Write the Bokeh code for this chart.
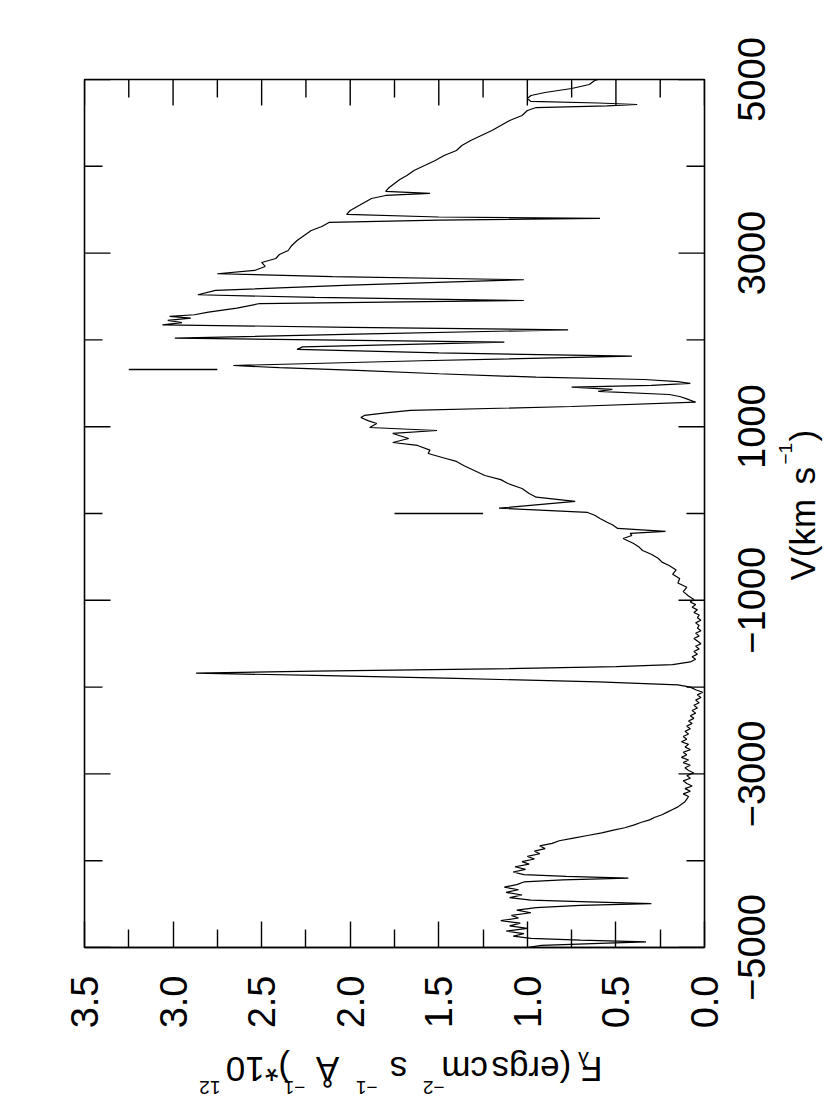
import math
from bokeh.plotting import figure
from bokeh.layouts import row, column
from bokeh.models import Range1d, LinearAxis, FixedTicker, Label
from bokeh.embed import file_html
from bokeh.resources import INLINE
from bokeh.core.properties import value

# ---------------- data ----------------
# blue wing (-5000 .. -2030 km/s)
vel_blue = [-5000, -4975, -4950, -4935, -4915, -4895, -4870, -4840, -4810, -4780,
            -4750, -4720, -4690, -4660, -4630, -4600, -4570, -4540, -4515, -4495,
            -4475, -4455, -4425, -4395, -4365, -4335, -4305, -4275, -4245, -4220,
            -4200, -4180, -4160, -4130, -4100, -4070, -4040, -4010, -3980, -3950,
            -3920, -3890, -3860, -3830, -3800, -3770, -3740, -3710, -3680, -3650,
            -3620, -3590, -3560, -3530, -3500, -3470, -3440, -3410, -3380, -3350,
            -3320, -3290, -3260, -3230, -3200, -3170, -3140, -3110, -3080, -3050,
            -3020, -2990, -2960, -2930, -2900, -2870, -2840, -2810, -2780, -2750,
            -2720, -2690, -2660, -2630, -2600, -2570, -2540, -2510, -2480, -2450,
            -2420, -2390, -2360, -2330, -2300, -2270, -2240, -2210, -2180, -2150,
            -2120, -2090, -2060, -2030]
flux_blue = [1.00, 0.92, 0.55, 0.33, 0.70, 0.98, 1.08, 1.02, 1.12, 1.00,
             1.10, 1.04, 1.15, 1.05, 1.09, 0.98, 1.06, 0.95, 0.70, 0.30,
             0.65, 0.98, 1.10, 1.03, 1.12, 1.05, 1.13, 1.06, 1.02, 0.80,
             0.43, 0.78, 1.02, 1.08, 1.01, 1.07, 0.99, 1.03, 0.96, 1.00,
             0.93, 0.96, 0.90, 0.93, 0.86, 0.82, 0.74, 0.66, 0.58, 0.52,
             0.45, 0.40, 0.36, 0.31, 0.28, 0.24, 0.21, 0.18, 0.15, 0.13,
             0.11, 0.10, 0.09, 0.12, 0.08, 0.11, 0.07, 0.10, 0.12, 0.08,
             0.10, 0.06, 0.09, 0.11, 0.08, 0.12, 0.09, 0.13, 0.10, 0.12,
             0.08, 0.11, 0.09, 0.13, 0.10, 0.12, 0.09, 0.11, 0.08, 0.10,
             0.07, 0.09, 0.06, 0.08, 0.05, 0.07, 0.04, 0.06, 0.03, 0.05,
             0.02, 0.04, 0.01, 0.05]

# narrow emission line and flat trough (-2000 .. -560 km/s)
vel_peak = [-2000, -1975, -1940, -1900, -1865, -1840, -1815, -1790, -1765, -1740,
            -1710, -1680, -1650, -1620, -1590, -1560, -1530, -1500, -1470, -1440,
            -1410, -1380, -1350, -1320, -1290, -1260, -1230, -1200, -1170, -1140,
            -1110, -1080, -1050, -1020, -990, -950, -900, -850, -800, -750,
            -700, -650, -600, -560]
flux_peak = [0.08, 0.15, 0.60, 1.40, 2.20, 2.87, 2.20, 1.20, 0.50, 0.18,
             0.08, 0.05, 0.07, 0.04, 0.06, 0.03, 0.05, 0.02, 0.04, 0.06,
             0.03, 0.05, 0.02, 0.04, 0.03, 0.05, 0.02, 0.04, 0.03, 0.06,
             0.04, 0.07, 0.05, 0.08, 0.06, 0.09, 0.12, 0.10, 0.15, 0.14,
             0.18, 0.16, 0.20, 0.24]

# rising part with the deep absorption troughs (-518 .. 2762 km/s)
vel_mid = [-518, -470, -426, -385, -345, -288, -253, -230, -207, -172,
           -130, -100, -57, -20, 12, 61, 139, 188, 230, 288,
           346, 390, 438, 496, 553, 600, 634, 691, 730, 784,
           818, 864, 922, 956, 991, 1037, 1070, 1106, 1130, 1160,
           1187, 1233, 1282, 1320, 1348, 1371, 1406, 1429, 1455, 1475,
           1498, 1520, 1544, 1570, 1610, 1648, 1680, 1705, 1760, 1813,
           1850, 1890, 1920, 1974, 2020, 2070, 2116, 2145, 2174, 2200,
           2225, 2250, 2270, 2290, 2320, 2366, 2419, 2454, 2490, 2520,
           2570, 2630, 2693, 2730, 2762]
flux_mid = [0.26, 0.30, 0.35, 0.37, 0.40, 0.46, 0.41, 0.42, 0.22, 0.49,
            0.52, 0.55, 0.59, 0.62, 0.66, 1.16, 0.73, 0.95, 0.99, 1.03,
            1.11, 1.15, 1.24, 1.30, 1.36, 1.40, 1.46, 1.56, 1.55, 1.62,
            1.76, 1.67, 1.76, 1.51, 1.89, 1.85, 1.90, 1.94, 1.92, 1.80,
            1.66, 0.75, 0.05, 0.10, 0.14, 0.20, 0.60, 0.52, 0.75, 0.30,
            0.08, 0.15, 0.34, 0.95, 1.50, 1.96, 2.40, 2.66, 1.60, 0.41,
            1.50, 2.30, 2.27, 1.13, 2.99, 1.90, 0.77, 2.00, 3.06, 2.95,
            3.03, 2.90, 3.02, 2.88, 2.80, 2.64, 2.51, 1.02, 2.20, 2.86,
            2.76, 2.00, 1.02, 2.10, 2.75]

# red wing (2800 .. 5000 km/s)
vel_red = [2800, 2846, 2892, 2938, 2984, 3030, 3088, 3145, 3203, 3260,
           3306, 3353, 3381, 3399, 3416, 3445, 3491, 3537, 3583, 3629,
           3664, 3687, 3710, 3756, 3802, 3848, 3894, 3952, 4009, 4067,
           4124, 4182, 4240, 4297, 4355, 4412, 4470, 4528, 4585, 4643,
           4677, 4695, 4712, 4729, 4747, 4781, 4816, 4850, 4896, 4942,
           4988, 5000]
flux_red = [2.54, 2.48, 2.50, 2.42, 2.40, 2.35, 2.33, 2.30, 2.26, 2.22,
            2.16, 2.12, 1.50, 0.59, 1.50, 2.02, 2.00, 1.96, 1.92, 1.88,
            1.80, 1.55, 1.80, 1.78, 1.75, 1.72, 1.68, 1.64, 1.58, 1.52,
            1.47, 1.40, 1.37, 1.32, 1.26, 1.20, 1.15, 1.10, 1.03, 1.00,
            0.95, 0.55, 0.38, 0.60, 0.98, 1.00, 0.98, 0.90, 0.75, 0.65,
            0.62, 0.60]

# short vertical line markers above two features
marker_velocity = [1660, 0]
marker_flux_low = [2.75, 1.25]
marker_flux_high = [3.25, 1.75]

flux_ticks = [0.0, 0.5, 1.0, 1.5, 2.0, 2.5, 3.0, 3.5]
flux_minor_ticks = [0.25, 0.75, 1.25, 1.75, 2.25, 2.75, 3.25]
flux_tick_labels = ["0.0", "0.5", "1.0", "1.5", "2.0", "2.5", "3.0", "3.5"]
vel_ticks = [-5000, -3000, -1000, 1000, 3000, 5000]
vel_minor_ticks = [-4000, -2000, 0, 2000, 4000]
vel_tick_labels = ["\u22125000", "\u22123000", "\u22121000", "1000", "3000", "5000"]

velocity = vel_blue + vel_peak + vel_mid + vel_red
flux = flux_blue + flux_peak + flux_mid + flux_red
assert len(velocity) == len(flux)

# ---------------- geometry (page pixels) ----------------
FONT = "Liberation Sans"
FRAME_L, FRAME_T, FRAME_W, FRAME_H = 84, 79, 620, 868
MAIN_W = FRAME_L + FRAME_W + 26          # main figure canvas width
MAIN_H = FRAME_T + FRAME_H + 88          # main figure canvas height
FOOT_H = 70                              # strip below for the flux title
SIDE_W = 96                              # strip on the right for velocity labels
TOTAL_H = MAIN_H + FOOT_H
FMAX, VMIN, VMAX = 3.5, -5000.0, 5000.0
F_PER_PX = FMAX / FRAME_W
V_PER_PX = (VMAX - VMIN) / FRAME_H
MAJOR_LEN, MINOR_LEN = 26, 18


def v_at(page_y):
    return VMAX - (page_y - FRAME_T) * V_PER_PX


def clean(f):
    f.grid.visible = False
    f.background_fill_color = "white"
    f.border_fill_color = "white"


# ---------------- main plot ----------------
fig = figure(width=MAIN_W, height=MAIN_H, output_backend="svg",
             toolbar_location=None,
             x_range=Range1d(FMAX, 0.0), y_range=Range1d(VMIN, VMAX),
             x_axis_location=None, y_axis_location=None,
             min_border_left=FRAME_L, min_border_right=MAIN_W - FRAME_L - FRAME_W,
             min_border_top=FRAME_T, min_border_bottom=MAIN_H - FRAME_T - FRAME_H)
clean(fig)
fig.outline_line_color = "black"
fig.outline_line_width = 1.6

ax = LinearAxis(ticker=FixedTicker(ticks=flux_ticks, minor_ticks=flux_minor_ticks))
ax.major_tick_in = MAJOR_LEN
ax.major_tick_out = 0
ax.minor_tick_in = MINOR_LEN
ax.minor_tick_out = 0
ax.major_tick_line_width = 1.4
ax.minor_tick_line_width = 1.4
ax.major_tick_line_color = "black"
ax.minor_tick_line_color = "black"
ax.axis_line_color = "black"
ax.axis_line_width = 1.6
ax.major_label_overrides = {t: l for t, l in zip(flux_ticks, flux_tick_labels)}
ax.major_label_orientation = math.pi / 2
ax.major_label_standoff = 28
ax.major_label_text_font = FONT
ax.major_label_text_font_size = "38px"
ax.major_label_text_color = "black"
fig.add_layout(ax, "below")


# inward ticks on the other three edges
def edge_ticks(values, length, where):
    n = len(values)
    if where == "top":
        fig.segment(x0=values, y0=[VMAX] * n, x1=values,
                    y1=[VMAX - length * V_PER_PX] * n,
                    line_color="black", line_width=1.4)
    elif where == "left":
        fig.segment(x0=[FMAX] * n, y0=values,
                    x1=[FMAX - length * F_PER_PX] * n, y1=values,
                    line_color="black", line_width=1.4)
    else:
        fig.segment(x0=[0.0] * n, y0=values,
                    x1=[length * F_PER_PX] * n, y1=values,
                    line_color="black", line_width=1.4)


edge_ticks(flux_ticks, MAJOR_LEN, "top")
edge_ticks(flux_minor_ticks, MINOR_LEN, "top")
for side in ("left", "right"):
    edge_ticks(vel_ticks, MAJOR_LEN, side)
    edge_ticks(vel_minor_ticks, MINOR_LEN, side)

# spectrum and markers
fig.line(flux, velocity, line_color="black", line_width=1.2)
fig.segment(x0=marker_flux_low, y0=marker_velocity, x1=marker_flux_high,
            y1=marker_velocity, line_color="black", line_width=1.5)

# ---------------- right strip: velocity tick labels + title ----------------
side_fig = figure(width=SIDE_W, height=TOTAL_H, output_backend="svg",
                  toolbar_location=None,
                  x_range=Range1d(MAIN_W, MAIN_W + SIDE_W),
                  y_range=Range1d(v_at(TOTAL_H), v_at(0)),
                  x_axis_location=None, y_axis_location=None, min_border=0)
clean(side_fig)
side_fig.outline_line_color = None
side_fig.text(x=[751] * len(vel_ticks), y=vel_ticks, text=vel_tick_labels,
              angle=math.pi / 2, text_align="center", text_baseline="middle",
              text_font=value(FONT), text_font_size="38px", text_color="black")

BIG, SMALL = 35, 19


def side_text(txt, cap_center_px, start_py, size):
    side_fig.add_layout(Label(x=cap_center_px, y=v_at(start_py), text=txt,
                              angle=math.pi / 2, text_font=FONT,
                              text_font_size=f"{size}px", text_color="black",
                              text_align="left", text_baseline="middle"))


side_text("V(km", 802, 580, BIG)
side_text("s", 802, 484, BIG)
side_text("\u22121", 785, 464, SMALL)
side_text(")", 802, 441, BIG)

# ---------------- bottom strip: flux title (upside down) ----------------
foot_fig = figure(width=MAIN_W, height=FOOT_H, output_backend="svg",
                  toolbar_location=None,
                  x_range=Range1d(0, MAIN_W), y_range=Range1d(-TOTAL_H, -MAIN_H),
                  x_axis_location=None, y_axis_location=None, min_border=0)
clean(foot_fig)
foot_fig.outline_line_color = None


def foot_text(txt, right_edge_px, center_py, size):
    foot_fig.add_layout(Label(x=right_edge_px, y=-center_py, text=txt,
                              angle=math.pi, text_font=FONT,
                              text_font_size=f"{size}px", text_color="black",
                              text_align="left", text_baseline="middle"))


MID = 1069
SUP = 1087
SUB = 1059
foot_text("F", 610, MID, BIG)
foot_text("\u03bb", 594, SUB, 22)
foot_text("(ergs", 573, MID, BIG)
foot_text("cm", 475, MID, BIG)
foot_text("\u22122", 424, SUP, SMALL)
foot_text("s", 380, MID, BIG)
foot_text("\u22121", 345, SUP, SMALL)
foot_text("\u00c5", 300, MID, BIG)
foot_text("\u22121", 260, SUP, SMALL)
foot_text(")*10", 242, MID, BIG)
foot_text("12", 160, SUP, SMALL)

p = row(column(fig, foot_fig, spacing=0), side_fig, spacing=0)
open("out.html", "w").write(file_html(p, INLINE))
